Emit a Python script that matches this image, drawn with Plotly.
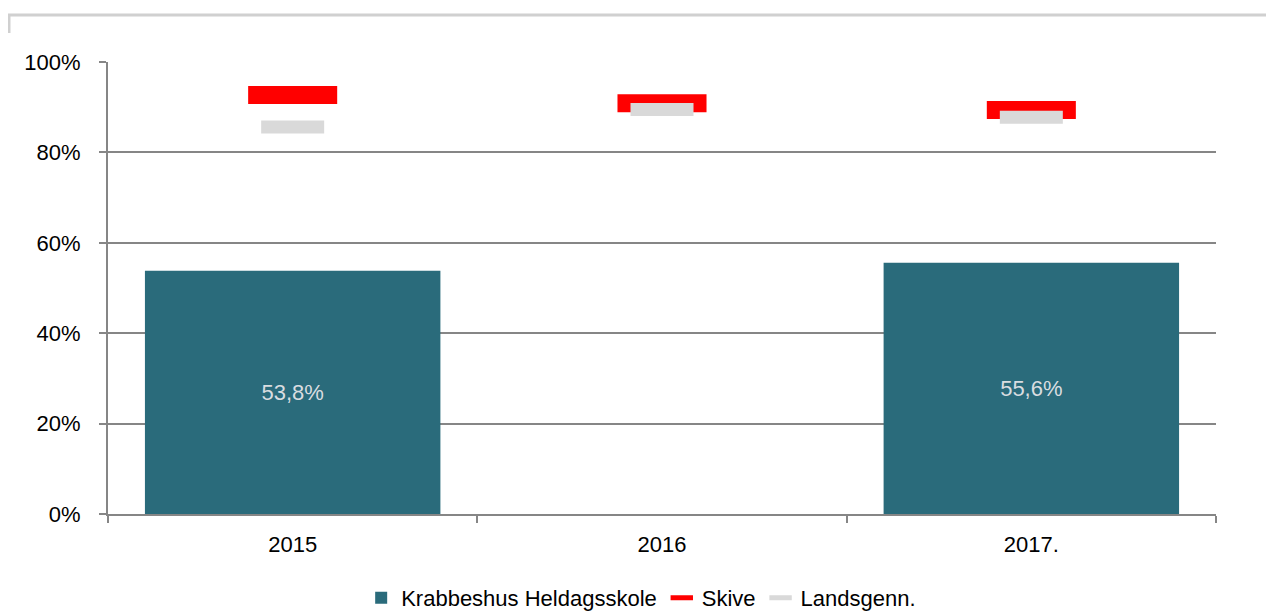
import plotly.graph_objects as go

categories = ["2015", "2016", "2017."]
school_values = [53.8, None, 55.6]
school_labels = ["53,8%", "", "55,6%"]
skive_values = [92.7, 90.9, 89.4]
lands_values = [85.6, 89.5, 87.8]
y_tickvals = [0, 20, 40, 60, 80, 100]
y_ticktext = ["0%", "20%", "40%", "60%", "80%", "100%"]

FONT = "Liberation Sans"
AXIS_COLOR = "#868686"

fig = go.Figure()

fig.add_trace(go.Bar(
    x=categories, y=school_values, name="Krabbeshus Heldagsskole",
    marker=dict(color="#2a6b7b", line=dict(width=0)),
    text=school_labels, textposition="inside", insidetextanchor="middle",
    textfont=dict(color="#d9dde0", size=22, family=FONT),
    width=0.8, hoverinfo="skip",
))

fig.add_trace(go.Scatter(
    x=categories, y=skive_values, name="Skive", mode="markers",
    marker=dict(symbol="line-ew", size=63.6, color="#ff0000",
                line=dict(color="#ff0000", width=18)),
))

fig.add_trace(go.Scatter(
    x=categories, y=lands_values, name="Landsgenn.", mode="markers",
    marker=dict(symbol="line-ew", size=45, color="#d9d9d9",
                line=dict(color="#d9d9d9", width=13)),
))

W, H = 1274, 614
ml, mr, mt, mb = 100, 66, 54, 108
pw, ph = W - ml - mr, H - mt - mb

def px_x(x):
    return (x - ml) / pw

def px_y(y):
    return (H - mb - y) / ph

fig.update_layout(
    width=W, height=H,
    margin=dict(l=ml, r=mr, t=mt, b=mb),
    paper_bgcolor="white", plot_bgcolor="white",
    font=dict(family=FONT, size=22, color="#000000"),
    showlegend=True,
    legend=dict(orientation="h", xref="container", x=0.497, xanchor="center",
                yref="container", y=(H - 590) / H, yanchor="middle",
                font=dict(size=22, family=FONT), itemwidth=30, tracegroupgap=0,
                bgcolor="rgba(0,0,0,0)"),
    barmode="overlay",
    xaxis=dict(type="category", showline=True, linecolor=AXIS_COLOR, linewidth=2,
               ticks="outside", tickson="boundaries", ticklen=7, tickwidth=2,
               tickcolor=AXIS_COLOR, showgrid=False, tickfont=dict(size=22),
               ticklabelstandoff=10, range=[-0.5, 2.5]),
    yaxis=dict(range=[0, 100], tickvals=y_tickvals, ticktext=y_ticktext,
               showline=True, linecolor=AXIS_COLOR, linewidth=2,
               ticks="outside", ticklen=7, tickwidth=2, tickcolor=AXIS_COLOR,
               showgrid=True, gridcolor=AXIS_COLOR, gridwidth=1.5,
               zeroline=False, tickfont=dict(size=22), ticklabelstandoff=14),
    shapes=[
        dict(type="line", xref="paper", yref="paper",
             x0=px_x(0), x1=px_x(1280), y0=px_y(7), y1=px_y(7),
             line=dict(color="#d0d0d0", width=3)),
        dict(type="line", xref="paper", yref="paper",
             x0=px_x(1), x1=px_x(1), y0=px_y(6), y1=px_y(25),
             line=dict(color="#d0d0d0", width=3)),
    ],
)

fig.write_html("out.html")
